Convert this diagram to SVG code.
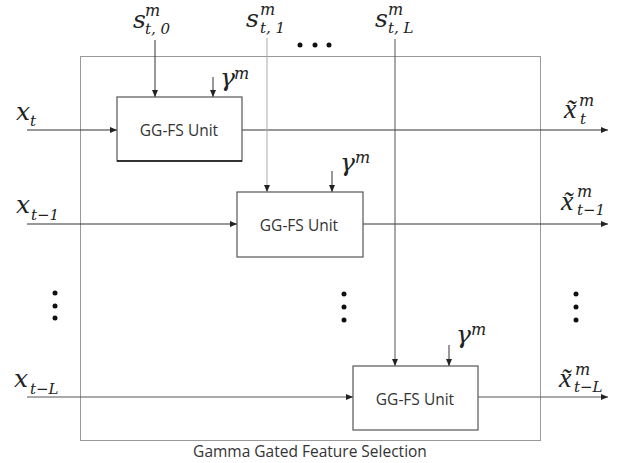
<svg xmlns="http://www.w3.org/2000/svg" width="617" height="463" viewBox="0 0 617 463">
<defs>
<marker id="ah" markerUnits="userSpaceOnUse" markerWidth="8" markerHeight="8" refX="7" refY="3" orient="auto">
<path d="M0,0 L7,3 L0,6 Z" fill="#222"/>
</marker>
<style>
.box{fill:#fff;stroke:#555;stroke-width:1.2}
.lbl{font-family:"Open Sans","Liberation Sans",sans-serif;font-size:15.5px;fill:#333;text-anchor:middle}
.mth{font-family:"DejaVu Serif","Liberation Serif",serif;font-style:italic;fill:#222;font-size:25px}
.tl{font-family:"Liberation Serif","DejaVu Serif",serif;font-size:28px}
.sup{font-size:16px}
.sub{font-size:15px}
.ln{stroke:#333;stroke-width:1;fill:none}
.arr{marker-end:url(#ah)}
.dot{fill:#111}
</style>
</defs>
<rect width="617" height="463" fill="#fff"/>
<g id="frame">
<rect x="80.5" y="56.5" width="460" height="384" fill="none" stroke="#999" stroke-width="1"/>
<text class="lbl" x="310" y="457">Gamma Gated Feature Selection</text>
</g>
<g id="connectors">
<line class="ln arr" x1="27" y1="130" x2="117" y2="130"/>
<line class="ln arr" x1="242" y1="130" x2="608" y2="130"/>
<line class="ln arr" x1="27" y1="224" x2="237" y2="224"/>
<line class="ln arr" x1="363" y1="224" x2="608" y2="224"/>
<line class="ln arr" x1="27" y1="397" x2="353" y2="397" style="stroke:#555"/>
<line class="ln arr" x1="478" y1="397" x2="608" y2="397" style="stroke:#555"/>
<line class="ln arr" x1="155" y1="40" x2="155" y2="97"/>
<line class="ln arr" x1="267" y1="38" x2="267" y2="192" style="stroke:#aaa"/>
<line class="ln arr" x1="395" y1="39" x2="395" y2="366" style="stroke:#555"/>
<line class="ln arr" x1="213" y1="77" x2="213" y2="97"/>
<line class="ln arr" x1="332" y1="171" x2="332" y2="192"/>
<line class="ln arr" x1="449" y1="345" x2="449" y2="366"/>
</g>
<g id="unit1">
<rect class="box" x="117" y="97" width="125" height="64"/>
<line x1="117" y1="161" x2="242" y2="161" stroke="#111" stroke-width="1.5"/>
<text class="lbl" x="179" y="136">GG-FS Unit</text>
</g>
<g id="unit2">
<rect class="box" x="237" y="192" width="126" height="65"/>
<text class="lbl" x="299" y="231">GG-FS Unit</text>
</g>
<g id="unit3">
<rect class="box" x="353" y="366" width="125" height="64"/>
<text class="lbl" x="415" y="405">GG-FS Unit</text>
</g>
<g id="inputs">
<text class="mth"><tspan x="16" y="120">x</tspan><tspan class="sub" x="30" y="126">t</tspan></text>
<text class="mth"><tspan x="16" y="213">x</tspan><tspan class="sub" x="31" y="220">t−1</tspan></text>
<text class="mth"><tspan x="14" y="387">x</tspan><tspan class="sub" x="30" y="394">t−L</tspan></text>
</g>
<g id="selectors">
<text class="mth"><tspan x="133" y="28">s</tspan><tspan class="sup" x="145" y="16">m</tspan><tspan class="sub" x="145" y="34">t, 0</tspan></text>
<text class="mth"><tspan x="246" y="27">s</tspan><tspan class="sup" x="260" y="15">m</tspan><tspan class="sub" x="260" y="33">t, 1</tspan></text>
<text class="mth"><tspan x="375" y="27">s</tspan><tspan class="sup" x="388" y="15">m</tspan><tspan class="sub" x="388" y="33">t, L</tspan></text>
</g>
<g id="gammas">
<text class="mth"><tspan x="220" y="86">γ</tspan><tspan class="sup" x="234" y="79">m</tspan></text>
<text class="mth"><tspan x="340" y="171">γ</tspan><tspan class="sup" x="355" y="163">m</tspan></text>
<text class="mth"><tspan x="456" y="343">γ</tspan><tspan class="sup" x="471" y="335">m</tspan></text>
</g>
<g id="outputs">
<text class="mth"><tspan class="tl" x="564" y="118">x̃</tspan><tspan class="sup" x="579" y="106">m</tspan><tspan class="sub" x="580" y="124">t</tspan></text>
<text class="mth"><tspan class="tl" x="561" y="210">x̃</tspan><tspan class="sup" x="577" y="197">m</tspan><tspan class="sub" x="577" y="215">t−1</tspan></text>
<text class="mth"><tspan class="tl" x="559" y="387">x̃</tspan><tspan class="sup" x="575" y="375">m</tspan><tspan class="sub" x="574" y="392">t−L</tspan></text>
</g>
<g id="ellipses">
<circle class="dot" cx="300" cy="45" r="2.5"/><circle class="dot" cx="315" cy="45" r="2.5"/><circle class="dot" cx="329" cy="45" r="2.5"/>
<circle class="dot" cx="55" cy="293" r="2.5"/><circle class="dot" cx="55" cy="306" r="2.5"/><circle class="dot" cx="55" cy="318" r="2.5"/>
<circle class="dot" cx="344" cy="294" r="2.5"/><circle class="dot" cx="344" cy="307" r="2.5"/><circle class="dot" cx="344" cy="320" r="2.5"/>
<circle class="dot" cx="576" cy="294" r="2.5"/><circle class="dot" cx="576" cy="307" r="2.5"/><circle class="dot" cx="576" cy="320" r="2.5"/>
</g>
</svg>
